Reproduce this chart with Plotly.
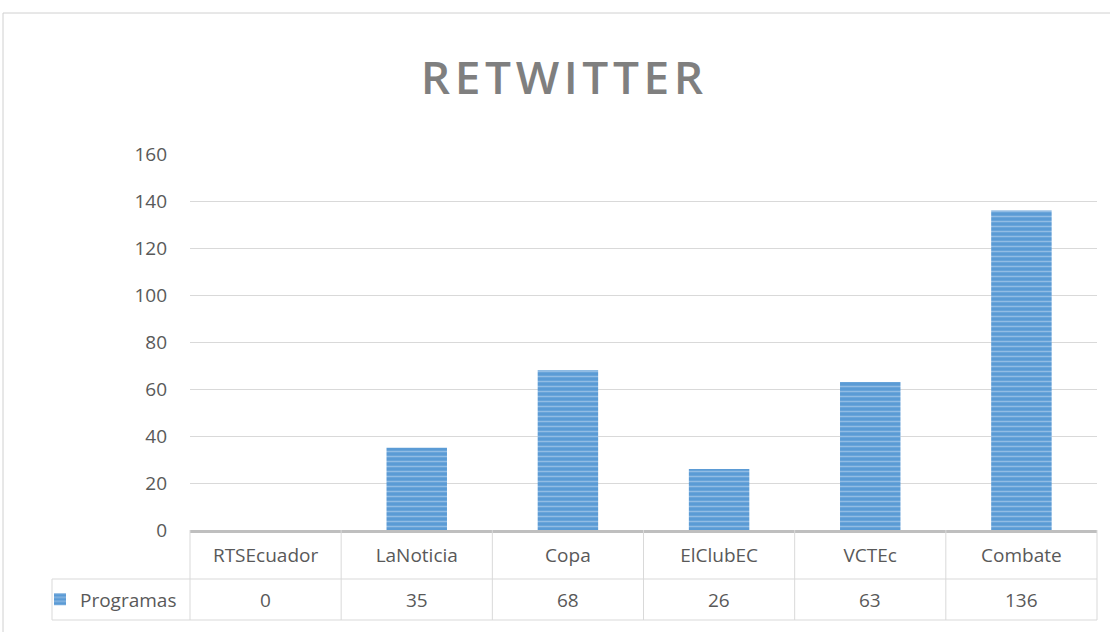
import plotly.graph_objects as go

categories = ["RTSEcuador", "LaNoticia", "Copa", "ElClubEC", "VCTEc", "Combate"]
values = [0, 35, 68, 26, 63, 136]
series_name = "Programas"
title_text = "RETWITTER"
y_ticks = [0, 20, 40, 60, 80, 100, 120, 140, 160]

W, H = 1110, 632
ML, MR, MT, MB = 190, 13, 154, 102
plot_w = W - ML - MR
plot_h = H - MT - MB

TEXT = "#595959"
GRID = "#d9d9d9"
FONT = "Open Sans"

fig = go.Figure()
fig.add_trace(go.Bar(
    x=categories, y=values, name=series_name,
    marker=dict(color="#5b9bd5",
                line=dict(color="#5088c6", width=0),
                pattern=dict(shape="-", fgcolor="#c9def4", bgcolor="#5b9bd5",
                             size=5, solidity=0.3)),
    showlegend=True,
))

# data table row of values
row_mid = -(579 - 530 + 620 - 530) / 2 / plot_h
for c, v in zip(categories, values):
    fig.add_annotation(x=c, y=row_mid, xref="x", yref="paper", text=str(v),
                       showarrow=False, font=dict(family=FONT, size=19, color=TEXT),
                       xanchor="center", yanchor="middle")

# table grid lines
n = len(categories)
y_row = -(579 - 530) / plot_h
y_bot = -(620 - 530) / plot_h
x_left = -(ML - 52) / plot_w
shapes = []
for i in range(n + 1):
    shapes.append(dict(type="line", xref="x domain", yref="paper",
                       x0=i / n, x1=i / n, y0=0, y1=y_bot,
                       line=dict(color=GRID, width=1)))
for yy in (y_row, y_bot):
    shapes.append(dict(type="line", xref="x domain", yref="paper",
                       x0=x_left, x1=1, y0=yy, y1=yy,
                       line=dict(color=GRID, width=1)))
shapes.append(dict(type="line", xref="x domain", yref="paper",
                   x0=x_left, x1=x_left, y0=y_row, y1=y_bot,
                   line=dict(color=GRID, width=1)))
# outer chart border
shapes.append(dict(type="rect", xref="paper", yref="paper",
                   x0=-(ML - 3) / plot_w, x1=(W - ML + 20) / plot_w,
                   y0=-(MB + 20) / plot_h, y1=1 + (MT - 13) / plot_h,
                   line=dict(color="#d0d0d0", width=1), layer="below"))

spaced_title = "\u200a".join(title_text)

fig.update_layout(
    width=W, height=H,
    margin=dict(l=ML, r=MR, t=MT, b=MB),
    paper_bgcolor="white", plot_bgcolor="white",
    bargap=0.6,
    font=dict(family=FONT, color=TEXT),
    title=dict(text=spaced_title, x=562 / W, xanchor="center",
               y=1 - 78 / H, yanchor="middle", xref="container", yref="container",
               font=dict(family=FONT, size=46, color="#7f7f7f", weight=600)),
    shapes=shapes,
    legend=dict(x=-(ML - 40) / plot_w, xanchor="left",
                y=row_mid, yanchor="middle",
                font=dict(family=FONT, size=19, color=TEXT),
                bgcolor="rgba(0,0,0,0)", borderwidth=0),
    xaxis=dict(type="category", showgrid=False, showline=True,
               linecolor="#bfbfbf", linewidth=3, ticks="",
               tickfont=dict(family=FONT, size=19, color=TEXT),
               ticklabelstandoff=6),
    yaxis=dict(range=[0, 160], tickvals=y_ticks, showgrid=True, gridcolor=GRID,
               gridwidth=1, zeroline=False, showline=False,
               tickfont=dict(family=FONT, size=19, color=TEXT),
               ticklabelstandoff=22),
)

fig.write_html("out.html")
